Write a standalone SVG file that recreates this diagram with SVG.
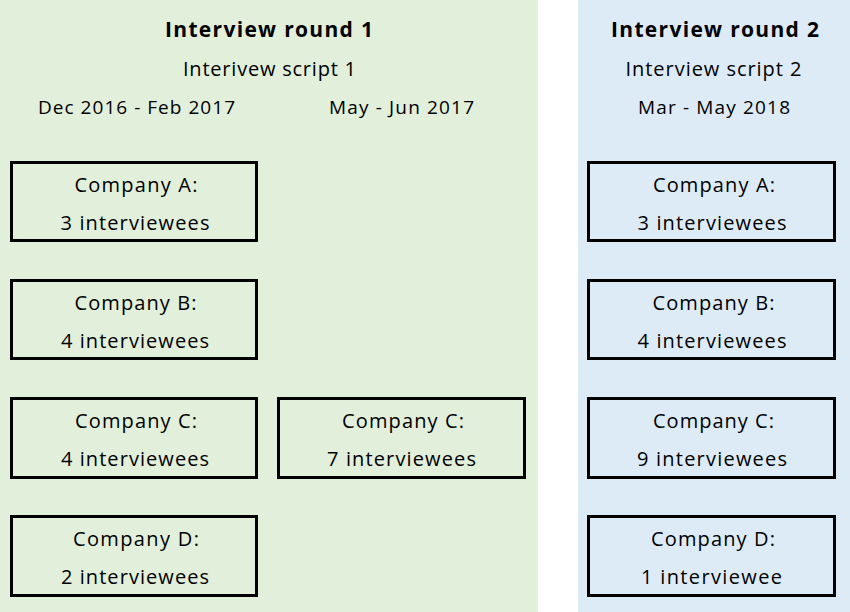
<svg xmlns="http://www.w3.org/2000/svg" width="850" height="612" viewBox="0 0 850 612">
<style>
text{font-family:"Open Sans","Liberation Sans",Arial,sans-serif;fill:#000;text-anchor:middle}
.t{font-size:21px;font-weight:bold}
.s{font-size:20px}
.d{font-size:19px}
.b{fill:none;stroke:#000;stroke-width:3}
</style>
<rect x="0" y="0" width="538" height="612" fill="#e2efda"/>
<rect x="578" y="0" width="272" height="612" fill="#ddebf7"/>
<g id="headers">
<text class="t" x="269" y="37" textLength="208" lengthAdjust="spacing">Interview round 1</text>
<text class="s" x="269.5" y="76" textLength="173" lengthAdjust="spacing">Interivew script 1</text>
<text class="d" x="136.5" y="114" textLength="197" lengthAdjust="spacing">Dec 2016 - Feb 2017</text>
<text class="d" x="401.5" y="114" textLength="145" lengthAdjust="spacing">May - Jun 2017</text>
<text class="t" x="715" y="37" textLength="208" lengthAdjust="spacing">Interview round 2</text>
<text class="s" x="713.5" y="76" textLength="176" lengthAdjust="spacing">Interview script 2</text>
<text class="d" x="714" y="114" textLength="152" lengthAdjust="spacing">Mar - May 2018</text>
</g>
<g id="r1A"><rect class="b" x="11.5" y="162.5" width="245" height="78"/><text class="s" x="136" y="192" textLength="123" lengthAdjust="spacing">Company A:</text><text class="s" x="135" y="230" textLength="149" lengthAdjust="spacing">3 interviewees</text></g>
<g id="r1B"><rect class="b" x="11.5" y="280.5" width="245" height="78"/><text class="s" x="135.5" y="310" textLength="122" lengthAdjust="spacing">Company B:</text><text class="s" x="135" y="348" textLength="148" lengthAdjust="spacing">4 interviewees</text></g>
<g id="r1C"><rect class="b" x="11.5" y="398.5" width="245" height="79"/><text class="s" x="136" y="428" textLength="122" lengthAdjust="spacing">Company C:</text><text class="s" x="135" y="466" textLength="148" lengthAdjust="spacing">4 interviewees</text></g>
<g id="r1D"><rect class="b" x="11.5" y="516.5" width="245" height="79"/><text class="s" x="136" y="546" textLength="126" lengthAdjust="spacing">Company D:</text><text class="s" x="135" y="584" textLength="148" lengthAdjust="spacing">2 interviewees</text></g>
<g id="r1C2"><rect class="b" x="278.5" y="398.5" width="246" height="79"/><text class="s" x="403" y="428" textLength="122" lengthAdjust="spacing">Company C:</text><text class="s" x="401.5" y="466" textLength="149" lengthAdjust="spacing">7 interviewees</text></g>
<g id="r2A"><rect class="b" x="588.5" y="162.5" width="246" height="78"/><text class="s" x="714" y="192" textLength="122" lengthAdjust="spacing">Company A:</text><text class="s" x="712" y="230" textLength="149" lengthAdjust="spacing">3 interviewees</text></g>
<g id="r2B"><rect class="b" x="588.5" y="280.5" width="246" height="78"/><text class="s" x="713.5" y="310" textLength="122" lengthAdjust="spacing">Company B:</text><text class="s" x="712" y="348" textLength="149" lengthAdjust="spacing">4 interviewees</text></g>
<g id="r2C"><rect class="b" x="588.5" y="398.5" width="246" height="79"/><text class="s" x="713.5" y="428" textLength="121" lengthAdjust="spacing">Company C:</text><text class="s" x="712" y="466" textLength="150" lengthAdjust="spacing">9 interviewees</text></g>
<g id="r2D"><rect class="b" x="588.5" y="516.5" width="246" height="79"/><text class="s" x="713" y="546" textLength="124" lengthAdjust="spacing">Company D:</text><text class="s" x="711.5" y="584" textLength="141" lengthAdjust="spacing">1 interviewee</text></g>
<g id="connectors"></g>
</svg>
